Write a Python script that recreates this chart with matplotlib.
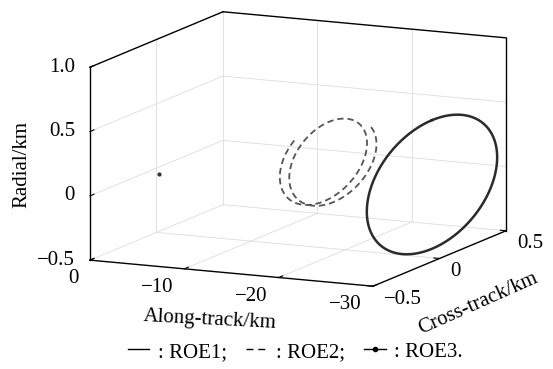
import numpy as np
import matplotlib
matplotlib.use("Agg")
import matplotlib.pyplot as plt
from matplotlib.lines import Line2D
from matplotlib.transforms import offset_copy

plt.rcParams["font.family"] = ["Liberation Serif", "DejaVu Serif"]
plt.rcParams["font.size"] = 15

# axis ranges and ticks
along_lim = [0, -30]
cross_lim = [-0.5, 0.5]
radial_lim = [-0.5, 1.0]
along_ticks = [0, -10, -20, -30]
cross_ticks = [-0.5, 0, 0.5]
radial_ticks = [-0.5, 0, 0.5, 1.0]
along_labels = ["0", "\u221210", "\u221220", "\u221230"]
cross_labels = ["\u22120.5", "0", "0.5"]
radial_labels = ["\u22120.5", "0", "0.5", "1.0"]

# ROE1: closed relative orbit (ellipse), km
roe1_along = -29.2
roe1_cross_amp = 0.49
roe1_radial_center = 0.07
roe1_radial_amp = 0.5

# ROE2: slowly drifting relative orbit, km and deg
roe2_along_start = -17.3
roe2_drift_per_rev = -1.0
roe2_cross_amp = 0.31
roe2_radial_center = 0.17
roe2_radial_amp = 0.31
roe2_phase = [-38, -664]

# ROE3: stays at one point (along, cross, radial), km
roe3_point = [-0.3, 0.0, -0.04]

# build the curves
t1 = np.radians(np.linspace(0, 360, 361))
roe1_x = np.full_like(t1, roe1_along)
roe1_y = roe1_cross_amp * np.sin(t1)
roe1_z = roe1_radial_center + roe1_radial_amp * np.cos(t1)

t2 = np.radians(np.linspace(roe2_phase[0], roe2_phase[1], 700))
rev = (np.radians(roe2_phase[0]) - t2) / (2 * np.pi)
roe2_x = roe2_along_start + roe2_drift_per_rev * rev
roe2_y = roe2_cross_amp * np.sin(t2)
roe2_z = roe2_radial_center + roe2_radial_amp * np.cos(t2)

fig = plt.figure(figsize=(5.53, 3.69), dpi=100)
S = 600
cx, cy = 289.9, 211.9
ax = fig.add_axes([(cx - S / 2) / 553, (cy - S / 2) / 369, S / 553, S / 369],
                  projection="3d", proj_type="ortho")
ax.view_init(elev=11.3, azim=-64.83)
ax.set_box_aspect((1, 1, 0.629), zoom=0.7832)
ax.set_xlim(along_lim)
ax.set_ylim(cross_lim)
ax.set_zlim(radial_lim)
ax.set_axis_off()

x0, x1 = along_lim
y0, y1 = cross_lim
z0, z1 = radial_lim

# light grid on the three back planes
grid = dict(color="#dddddd", lw=0.6)
for v in along_ticks[1:-1]:
    ax.plot([v, v], [y1, y1], [z0, z1], **grid)
    ax.plot([v, v], [y0, y1], [z0, z0], **grid)
for v in cross_ticks[1:-1]:
    ax.plot([x0, x0], [v, v], [z0, z1], **grid)
    ax.plot([x0, x1], [v, v], [z0, z0], **grid)
for v in radial_ticks[1:-1]:
    ax.plot([x0, x0], [y0, y1], [v, v], **grid)
    ax.plot([x0, x1], [y1, y1], [v, v], **grid)
ax.plot([x0, x0], [y1, y1], [z0, z1], **grid)
ax.plot([x0, x1], [y1, y1], [z0, z0], **grid)
ax.plot([x0, x0], [y0, y1], [z0, z0], **grid)

# data
ax.plot(roe1_x, roe1_y, roe1_z, color="#2b2b2b", lw=1.8)
ax.plot(roe2_x, roe2_y, roe2_z, color="#555555", lw=1.3, dashes=(3.5, 2.2))
ax.plot([roe3_point[0]], [roe3_point[1]], [roe3_point[2]], ".", color="#333333", ms=4)

# box edges (MATLAB style)
for xs, ys, zs in [([x0, x0], [y0, y0], [z0, z1]),
                   ([x0, x0], [y0, y1], [z1, z1]),
                   ([x0, x1], [y1, y1], [z1, z1]),
                   ([x1, x1], [y1, y1], [z1, z0]),
                   ([x0, x1], [y0, y0], [z0, z0]),
                   ([x1, x1], [y0, y1], [z0, z0])]:
    ax.plot(xs, ys, zs, color="black", lw=1.0)

# small inward tick marks
for v in along_ticks:
    ax.plot([v, v], [y0, y0 + 0.03], [z0, z0], color="black", lw=0.8)
for v in cross_ticks:
    ax.plot([x1, x1 + 0.6], [v, v], [z0, z0], color="black", lw=0.8)
for v in radial_ticks:
    ax.plot([x0, x0], [y0, y0 + 0.03], [v, v], color="black", lw=0.8)

# tick labels placed MATLAB-like next to the ticks
for v, s in zip(along_ticks, along_labels):
    ax.text(v, y0, z0, s, ha="right", va="top",
            transform=offset_copy(ax.transData, fig=fig, x=-11, y=-9, units="dots"))
for v, s in zip(cross_ticks, cross_labels):
    ax.text(x1, v, z0, s, ha="left", va="center",
            transform=offset_copy(ax.transData, fig=fig, x=11, y=-13, units="dots"))
for v, s in zip(radial_ticks, radial_labels):
    ax.text(x0, y0, v, s, ha="right", va="center",
            transform=offset_copy(ax.transData, fig=fig, x=-15, y=0, units="dots"))

# axis titles
fig.text(210 / 553, 1 - 320 / 369, "Along-track/km", ha="center", va="center", rotation=-3)
fig.text(478 / 553, 1 - 304 / 369, "Cross-track/km", ha="center", va="center", rotation=24)
fig.text(22 / 553, 1 - 164 / 369, "Radial/km", ha="center", va="center", rotation=90)

handles = [Line2D([], [], color="black", lw=1.0),
           Line2D([], [], color="black", lw=1.0, dashes=(5, 3.5)),
           Line2D([], [], color="black", lw=1.0, marker=".", ms=6)]
fig.legend(handles, [": ROE1;", ": ROE2;", ": ROE3."], loc="center",
           bbox_to_anchor=(295 / 553, 1 - 352 / 369), ncol=3, frameon=False, fontsize=15,
           handlelength=1.05, handletextpad=0.4, columnspacing=0.9, borderpad=0)

fig.savefig("out.png", dpi=100)
